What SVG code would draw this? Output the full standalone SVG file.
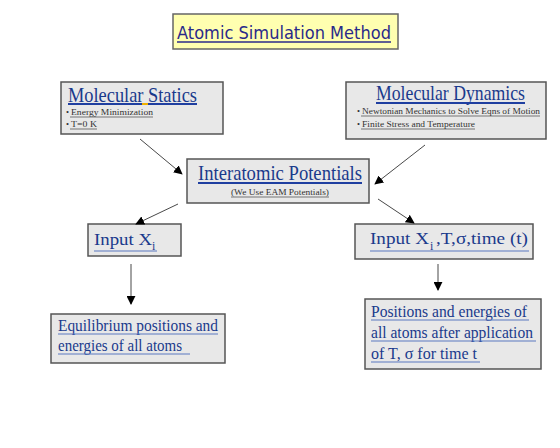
<svg xmlns="http://www.w3.org/2000/svg" width="560" height="448" viewBox="0 0 560 448">
<style>
.box{fill:#e8e8e8;stroke:#555;stroke-width:1.5}
.t{font-family:"Liberation Serif","Times New Roman",serif;fill:#1a3a8c}
.big{font-size:22px}
.mid{font-size:17px}
.sm{font-family:"Liberation Serif",serif;font-size:8.5px;fill:#333}
.ul{stroke:#5a78c0;stroke-width:1.2}
.ulb{stroke:#1f3fa0;stroke-width:2}
.uls{stroke:#444;stroke-width:0.7}
.c{stroke:#333;stroke-width:0.9;fill:none;marker-end:url(#ah)}
</style>
<defs>
<marker id="ah" viewBox="0 0 10 10" refX="9" refY="5" markerWidth="9" markerHeight="9" markerUnits="userSpaceOnUse" orient="auto">
<path d="M0,0 L10,5 L0,10 z" fill="#000"/>
</marker>
</defs>
<rect width="560" height="448" fill="#fff"/>
<g id="title">
<rect x="173" y="14" width="225" height="35" fill="#ffffb0" stroke="#666" stroke-width="1.5"/>
<text x="177" y="39" font-family="'DejaVu Sans',Verdana,sans-serif" font-size="17" fill="#2a2a8a" textLength="214" lengthAdjust="spacingAndGlyphs">Atomic Simulation Method</text>
<line x1="177" y1="42" x2="391" y2="42" stroke="#2a2a8a" stroke-width="1.3"/>
</g>
<g id="statics">
<rect class="box" x="61" y="82" width="162" height="52"/>
<text class="t big" x="68" y="102" textLength="129" lengthAdjust="spacingAndGlyphs">Molecular Statics</text>
<line class="ulb" x1="68" y1="104" x2="142" y2="104"/>
<line x1="142" y1="104" x2="148" y2="104" stroke="#f0b000" stroke-width="2"/>
<line class="ulb" x1="148" y1="104" x2="197" y2="104"/>
<text class="sm" x="66" y="115">•</text>
<text class="sm" x="71" y="115" textLength="82" lengthAdjust="spacingAndGlyphs">Energy Minimization</text>
<line class="uls" x1="70" y1="117" x2="153" y2="117"/>
<text class="sm" x="66" y="127">•</text>
<text class="sm" x="71" y="127" textLength="26" lengthAdjust="spacingAndGlyphs">T=0 K</text>
<line class="uls" x1="70" y1="129" x2="97" y2="129"/>
</g>
<g id="dynamics">
<rect class="box" x="346" y="82" width="200" height="57"/>
<text class="t big" x="376" y="100" textLength="149" lengthAdjust="spacingAndGlyphs">Molecular Dynamics</text>
<line class="ulb" x1="376" y1="103" x2="525" y2="103"/>
<text class="sm" x="357" y="114">•</text>
<text class="sm" x="362" y="114" textLength="178" lengthAdjust="spacingAndGlyphs">Newtonian Mechanics to Solve Eqns of Motion</text>
<line class="uls" x1="361" y1="116" x2="540" y2="116"/>
<text class="sm" x="357" y="127">•</text>
<text class="sm" x="362" y="127" textLength="113" lengthAdjust="spacingAndGlyphs">Finite Stress and Temperature</text>
<line class="uls" x1="361" y1="129" x2="475" y2="129"/>
</g>
<g id="potentials">
<rect class="box" x="187" y="159" width="182" height="44"/>
<text class="t big" x="198" y="180" textLength="164" lengthAdjust="spacingAndGlyphs">Interatomic Potentials</text>
<line class="ulb" x1="198" y1="183" x2="362" y2="183"/>
<text class="sm" x="231" y="195" textLength="98" lengthAdjust="spacingAndGlyphs">(We Use EAM Potentials)</text>
<line class="uls" x1="231" y1="197" x2="329" y2="197"/>
</g>
<g id="inputL">
<rect class="box" x="88" y="224" width="93" height="32"/>
<text class="t mid" x="94" y="245" textLength="58" lengthAdjust="spacingAndGlyphs">Input X</text>
<text class="t" x="152" y="250" font-size="12">i</text>
<line class="ul" x1="94" y1="251" x2="157" y2="251"/>
</g>
<g id="inputR">
<rect class="box" x="355" y="224" width="178" height="35"/>
<text class="t mid" x="370" y="244" textLength="59" lengthAdjust="spacingAndGlyphs">Input X</text>
<text class="t" x="430" y="250" font-size="12">i</text>
<text class="t mid" x="436" y="244" textLength="92" lengthAdjust="spacingAndGlyphs">,T,σ,time (t)</text>
<line class="ul" x1="370" y1="251" x2="529" y2="251"/>
</g>
<g id="equil">
<rect class="box" x="51" y="314" width="174" height="49"/>
<text class="t mid" x="58" y="331" textLength="160" lengthAdjust="spacingAndGlyphs">Equilibrium positions and</text>
<line class="ul" x1="58" y1="334" x2="218" y2="334"/>
<text class="t mid" x="58" y="351" textLength="124" lengthAdjust="spacingAndGlyphs">energies of all atoms</text>
<line class="ul" x1="58" y1="354" x2="190" y2="354"/>
</g>
<g id="positions">
<rect class="box" x="365" y="299" width="176" height="70"/>
<text class="t mid" x="371" y="317" textLength="156" lengthAdjust="spacingAndGlyphs">Positions and energies of</text>
<line class="ul" x1="371" y1="320" x2="529" y2="320"/>
<text class="t mid" x="371" y="338" textLength="162" lengthAdjust="spacingAndGlyphs">all atoms after application</text>
<line class="ul" x1="371" y1="341" x2="536" y2="341"/>
<text class="t mid" x="371" y="359" textLength="106" lengthAdjust="spacingAndGlyphs">of T, σ for time t</text>
<line class="ul" x1="371" y1="362" x2="480" y2="362"/>
</g>
<g id="connectors">
<line class="c" x1="140" y1="139" x2="182" y2="174"/>
<line class="c" x1="425" y1="145" x2="375" y2="184"/>
<line class="c" x1="178" y1="204" x2="136" y2="224"/>
<line class="c" x1="378" y1="199" x2="414" y2="223"/>
<line class="c" x1="131" y1="264" x2="131" y2="304"/>
<line class="c" x1="438" y1="264" x2="438" y2="290"/>
</g>
</svg>
